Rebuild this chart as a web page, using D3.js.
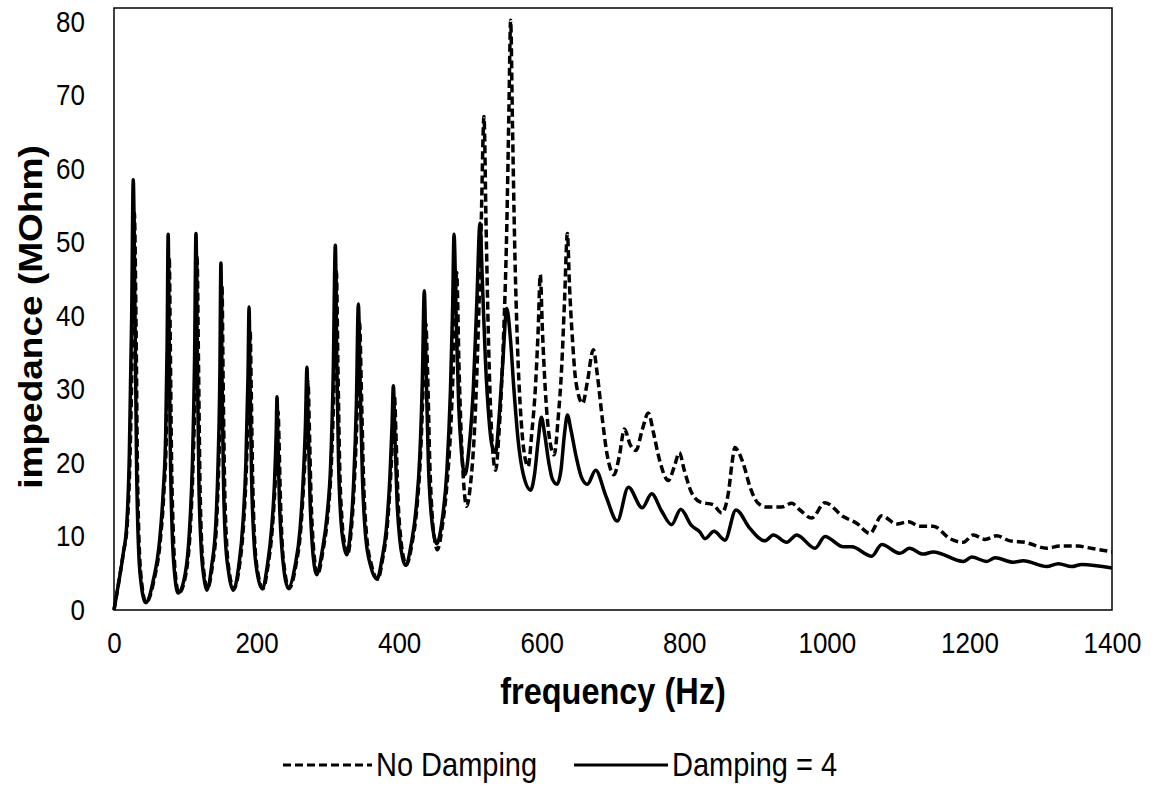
<!DOCTYPE html>
<html>
<head>
<meta charset="utf-8">
<script src="https://cdn.jsdelivr.net/npm/d3@7"></script>
<style>
  body { margin: 0; background: #fff; }
  .chart text { font-family: "Liberation Sans", Arial, sans-serif; fill: #000; }
  .axis text { font-size: 26px; }
  .axis path, .axis line { display: none; }
  .title { font-size: 32.5px; font-weight: bold; }
  .legend text { font-size: 29px; }
</style>
</head>
<body>
<svg class="chart" width="1155" height="789"></svg>
<script>
// frequency (Hz), impedance (MOhm)
var noDamping = [
    [0, 0], [6, 3.4], [13, 7.7], [18.5, 11.5], [22.5, 21], [26, 38], [28.5, 54], [31, 38], [33, 18.5], [37.5, 5], [45, 1.0],
    [56, 4], [65, 9.5], [70, 16], [73.5, 24], [75.5, 36], [77.5, 48], [79, 36], [80.5, 22], [83, 11], [86, 5], [91, 2.3],
    [101, 5], [107, 11], [111, 20], [114.5, 34], [116.5, 48], [118.5, 34], [120.5, 18], [123, 9], [127, 4.5], [131, 2.9],
    [138, 6], [144, 12], [147, 20], [150, 32], [151.5, 44], [153, 32], [155, 18], [157.5, 10], [162, 5], [168, 2.9],
    [176, 6], [182, 12], [186, 20], [189.5, 32], [191, 38], [192.5, 30], [194.5, 18], [197, 10], [202, 5], [209, 2.9],
    [216, 6], [222, 11], [226, 17], [229, 24], [230.2, 27], [231.5, 23], [233.5, 15], [236, 9], [240, 5], [245.5, 2.9],
    [255, 6], [262, 11], [266, 17], [270, 25], [272.2, 31], [274, 25], [276.5, 15], [279.5, 9], [282.5, 6], [285.5, 4.8],
    [293, 8], [300, 13], [305, 20], [309, 32], [312, 46], [314, 34], [316.5, 20], [320, 12], [323.5, 9], [327.5, 7.5],
    [332, 10], [337, 17], [341.5, 28], [344.5, 39], [347, 30], [350, 18], [354.5, 10], [361.5, 6], [370, 4.2],
    [377, 7], [383, 11], [388, 18], [391.5, 25], [393.5, 29], [395.5, 24], [398.5, 15], [402.5, 9.5], [406.5, 7], [410, 6.1],
    [418, 9], [425, 14], [430, 21], [434, 31], [437.3, 39], [440, 32], [443, 20], [447, 12], [450, 9.5], [453.5, 8.2],
    [460, 11], [467, 17], [472, 24], [476, 33], [480.7, 45.9], [484, 33], [487, 24], [490, 18], [494.7, 14.1],
    [500, 17], [506, 25], [511, 38], [515, 52], [519, 67.1], [522, 52], [525, 38], [528, 28], [531, 22], [535.4, 19.0],
    [540, 24], [546, 36], [551, 52], [554, 68], [556.4, 80.2], [559, 66], [562, 50], [566, 36], [571, 26], [576, 21], [581, 19.5],
    [586, 24], [591, 30], [595, 38], [598, 45.6], [601, 38], [605, 30], [610, 24], [617.5, 21.1],
    [623, 26], [628, 33], [632, 42], [636, 51.2], [639, 44], [643, 37], [648, 31], [657.4, 28.1],
    [664, 31], [672.4, 35.4], [678, 32], [685, 26], [692, 21], [701.4, 18.4],
    [709, 21], [716, 24.6], [724, 22.5], [732.3, 21.7], [741, 24.5], [749.5, 26.8], [757, 24], [765, 20.5], [777.6, 17.6],
    [786, 19.5], [793, 21.4], [800, 19], [810, 16], [822, 14.7], [840.7, 14.3], [852.4, 13.2],
    [862, 16], [867, 20], [871, 22.1], [876, 21.5], [882.8, 19.9], [893, 16.5], [903.8, 14.5],
    [915.6, 14.0], [936.6, 14.0], [950.6, 14.5], [962.3, 13.6], [978.7, 12.5], [997.4, 14.6], [1023, 12.7],
    [1041.8, 11.8], [1060.5, 10.4], [1077, 12.8], [1098, 11.7], [1114.3, 12.0], [1130.6, 11.4], [1149.3, 11.4],
    [1172.7, 9.7], [1191.4, 9.2], [1205.4, 10.2], [1221.8, 9.6], [1238.2, 10.1], [1256.9, 9.4], [1278, 9.2],
    [1308.4, 8.4], [1327, 8.7], [1352.7, 8.7], [1364.5, 8.5], [1400, 7.9]
];

var damping4 = [
    [0, 0], [6, 3.4], [13, 7.7], [17.8, 11.5], [21.5, 21.1], [24.8, 40], [27, 58.5], [29.5, 40], [31.8, 18.5], [36.5, 5], [44.4, 1.0],
    [55, 4], [64, 9.5], [69, 16], [72.5, 24], [74.5, 36], [76, 51.1], [77.5, 36], [79, 22], [81.5, 11], [85, 5], [90, 2.3],
    [100, 5], [106, 11], [110, 20], [113, 34], [115, 51.2], [117, 34], [119, 18], [122, 9], [126, 4.5], [130, 2.7],
    [137, 6], [143, 12], [146, 20], [148.5, 32], [150, 47.2], [151.5, 32], [153.5, 18], [156, 10], [161, 5], [167.4, 2.7],
    [175, 6], [181, 12], [185, 20], [188, 32], [189.5, 41.2], [191, 30], [193, 18], [196, 10], [201, 5], [208, 2.9],
    [215, 6], [221, 11], [225, 17], [227.5, 24], [228.7, 29], [230, 23], [232, 15], [235, 9], [239, 5], [244.5, 3.0],
    [254, 6], [261, 11], [265, 17], [268.5, 25], [270.7, 33], [272.5, 25], [275, 15], [278, 9], [281, 6], [284.3, 4.8],
    [292, 8], [299, 13], [304, 20], [307.5, 32], [310.5, 49.6], [312.5, 34], [315, 20], [318.5, 12], [322, 9], [326.4, 7.5],
    [331, 10], [336, 17], [340, 28], [342.8, 41.6], [345.5, 30], [348.5, 18], [353, 10], [360, 6], [369, 4.2],
    [376, 7], [382, 11], [387, 18], [390, 25], [391.9, 30.5], [394, 24], [397, 15], [401, 9.5], [405, 7], [409, 6.1],
    [417, 9], [424, 14], [429, 21], [432.5, 31], [435.3, 43.4], [438, 32], [441, 20], [445, 13], [449, 10], [452.6, 9.0],
    [460, 12], [467, 19], [472, 30], [475, 41], [477, 51.1], [480, 40], [483.5, 28], [487, 22], [492.4, 18.4],
    [498, 22], [504, 30], [509, 42], [513.4, 52.6], [517, 44], [521, 34], [526, 26], [530, 22.5], [535.4, 21.4],
    [540, 26], [545, 33], [551, 41], [556, 37], [561, 30], [567, 23], [574, 18.5], [584.5, 16.3],
    [590, 18.5], [595, 23], [599.5, 26.2], [604, 24], [610, 20], [615, 17.8], [621.5, 17.1],
    [627, 19], [632, 24], [636, 26.5], [641, 24.5], [648, 21], [656, 18], [664, 17.1],
    [675.7, 19.0], [690, 15.5], [706, 12.1], [721.5, 16.7], [741, 13.9], [754.3, 15.8], [768, 13.5], [782.3, 11.6],
    [795, 13.7], [810, 11.5], [822, 10.6], [829, 9.7], [841.7, 10.7], [857, 9.5], [872.5, 13.6], [892, 11.1],
    [913, 9.4], [925, 10.2], [943.6, 9.2], [957.7, 10.2], [983.4, 8.4], [997.4, 10.0], [1023, 8.6], [1034.8, 8.6],
    [1062.9, 7.3], [1077, 8.9], [1102.6, 7.7], [1115.7, 8.4], [1135.3, 7.6], [1149.3, 7.9], [1191.4, 6.6],
    [1203.2, 7.2], [1224.2, 6.6], [1235.9, 7.1], [1261.5, 6.5], [1275.6, 6.7], [1308.4, 5.9], [1324.7, 6.3],
    [1343.4, 5.9], [1357.5, 6.2], [1400, 5.7]
];

var xTicks = [0, 200, 400, 600, 800, 1000, 1200, 1400];
var yTicks = [0, 10, 20, 30, 40, 50, 60, 70, 80];
var seriesNames = ["No Damping", "Damping = 4"];

var svg = d3.select(".chart");

var plot = {left: 114, right: 1112, top: 8, bottom: 610};
var stretch = 1.14; // the source picture's text is a bit taller than wide

var x = d3.scaleLinear().domain([0, 1400]).range([plot.left, plot.right]);
var y = d3.scaleLinear().domain([0, 81.86]).range([plot.bottom, plot.top]);

// axes (labels only, Excel style)
svg.append("g")
    .attr("class", "x axis")
    .attr("transform", "translate(0," + plot.bottom + ")")
    .call(d3.axisBottom(x).tickValues(xTicks).tickSize(0).tickPadding(19).tickFormat(d3.format("d")))
    .selectAll("text").attr("transform", "scale(1," + stretch + ")");

svg.append("g")
    .attr("class", "y axis")
    .attr("transform", "translate(" + plot.left + ",0)")
    .call(d3.axisLeft(y).tickValues(yTicks).tickSize(0).tickPadding(29))
    .selectAll("text").attr("transform", "scale(1," + stretch + ")");

var line = d3.line()
    .x(function(d) { return x(d[0]); })
    .y(function(d) { return y(d[1]); })
    .curve(d3.curveMonotoneX);

svg.append("path")
    .datum(noDamping)
    .attr("fill", "none")
    .attr("stroke", "#000")
    .attr("stroke-width", 3.5)
    .attr("stroke-dasharray", "8,4")
    .attr("d", line);

svg.append("path")
    .datum(damping4)
    .attr("fill", "none")
    .attr("stroke", "#000")
    .attr("stroke-width", 3.5)
    .attr("stroke-linejoin", "round")
    .attr("d", line);

// plot border
svg.append("rect")
    .attr("x", plot.left)
    .attr("y", plot.top)
    .attr("width", plot.right - plot.left)
    .attr("height", plot.bottom - plot.top)
    .attr("fill", "none")
    .attr("stroke", "#000")
    .attr("stroke-width", 1.5);

// axis titles
svg.append("text")
    .attr("class", "title")
    .attr("transform", "translate(" + ((plot.left + plot.right) / 2) + ",704) scale(1," + stretch + ")")
    .attr("text-anchor", "middle")
    .text("frequency (Hz)");

svg.append("text")
    .attr("class", "title")
    .attr("transform", "translate(42," + ((plot.top + plot.bottom) / 2 + 8) + ") rotate(-90) scale(" + stretch + ",1)")
    .attr("text-anchor", "middle")
    .text("impedance (MOhm)");

// legend
var legend = svg.append("g").attr("class", "legend");
var legendItems = [
    {name: seriesNames[0], x1: 283, x2: 372, dash: "8,4"},
    {name: seriesNames[1], x1: 574, x2: 668, dash: null}
];
legendItems.forEach(function(it) {
    legend.append("line")
        .attr("x1", it.x1).attr("x2", it.x2)
        .attr("y1", 765).attr("y2", 765)
        .attr("stroke", "#000")
        .attr("stroke-width", 3)
        .attr("stroke-dasharray", it.dash);
    legend.append("text")
        .attr("transform", "translate(" + (it.x2 + 4) + ",776) scale(1," + stretch + ")")
        .text(it.name);
});
</script>
</body>
</html>
